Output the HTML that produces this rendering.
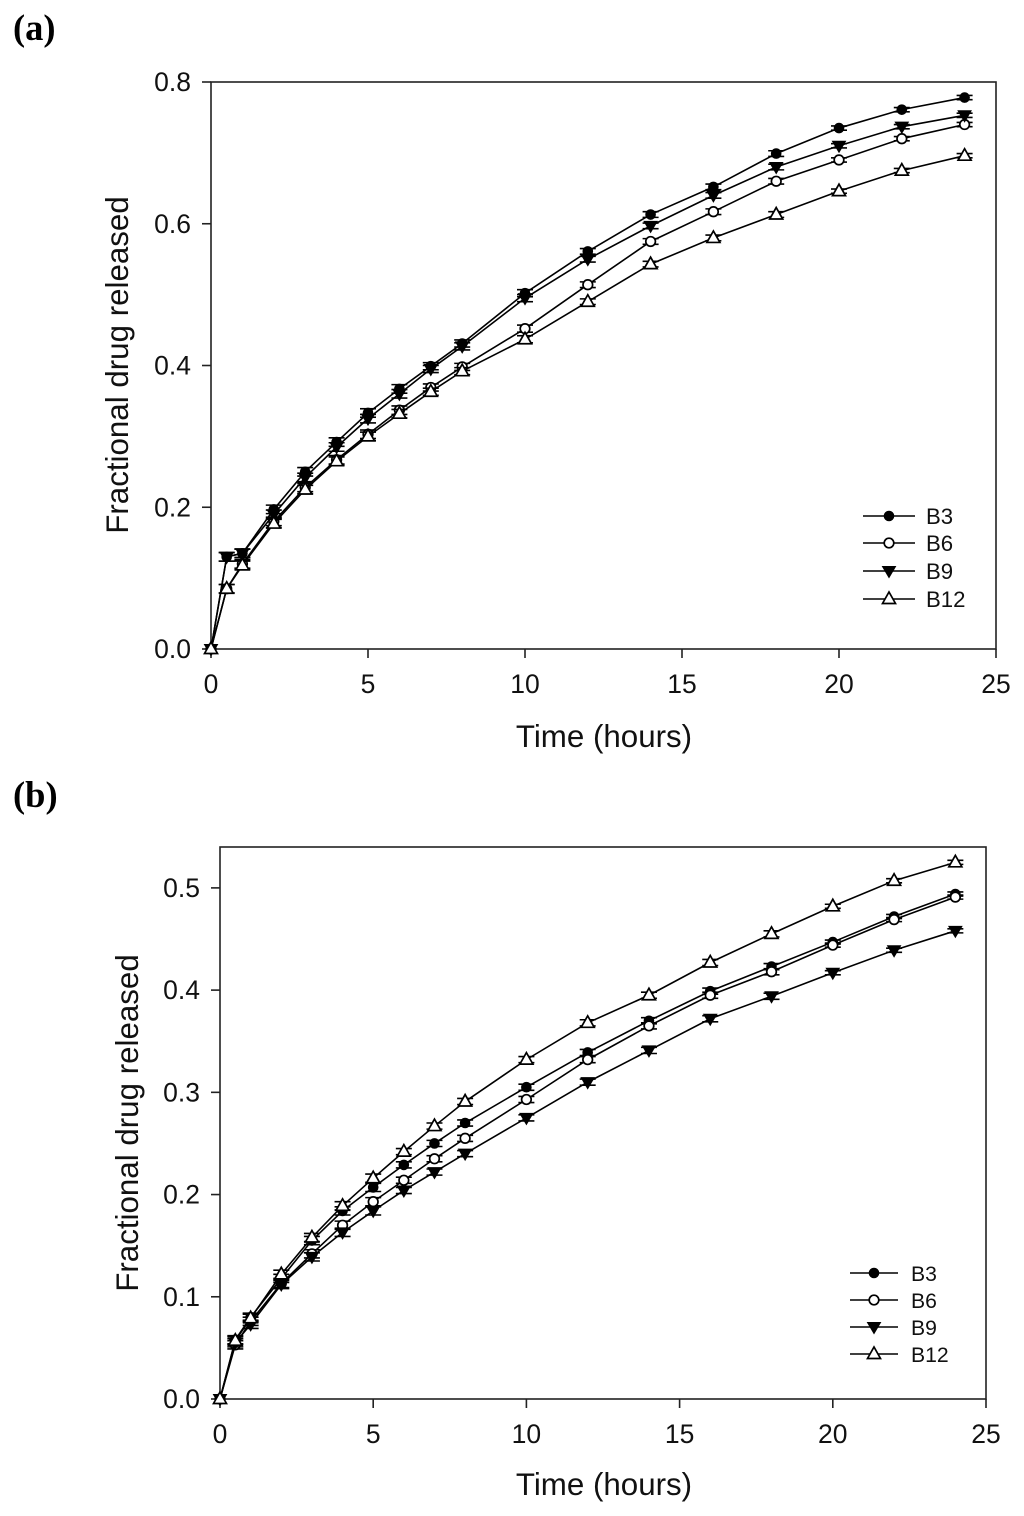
<!DOCTYPE html>
<html lang="en">
<head>
<meta charset="utf-8">
<title>Fractional drug released over time</title>
<style>
html,body{margin:0;padding:0;background:#fff;width:1024px;height:1516px;overflow:hidden}
svg{display:block;filter:blur(0.35px)}
text{font-family:"Liberation Sans",Arial,sans-serif;fill:#111}
.panel{font-family:"Liberation Serif","Times New Roman",serif;font-weight:bold;font-size:36.5px;fill:#000}
</style>
</head>
<body>
<svg id="figure" xmlns="http://www.w3.org/2000/svg" width="1024" height="1516" viewBox="0 0 1024 1516">
  <text class="panel" x="13" y="40">(a)</text>
  <text class="panel" x="13" y="807">(b)</text>
</svg>
<script>
var times = [0,0.5,1,2,3,4,5,6,7,8,10,12,14,16,18,20,22,24];
var seriesNames = ['B3','B6','B9','B12'];
var xTicks = [0,5,10,15,20,25];
var yTicksA = [0.0,0.2,0.4,0.6,0.8];
var yTicksB = [0.0,0.1,0.2,0.3,0.4,0.5];

var a_B3  = [0,0.130,0.135,0.197,0.250,0.292,0.333,0.367,0.399,0.431,0.502,0.561,0.613,0.652,0.699,0.735,0.761,0.778];
var a_B6  = [0,0.085,0.120,0.180,0.228,0.267,0.303,0.337,0.369,0.398,0.452,0.514,0.575,0.617,0.660,0.690,0.720,0.740];
var a_B9  = [0,0.130,0.135,0.190,0.242,0.285,0.325,0.360,0.395,0.427,0.495,0.550,0.597,0.640,0.680,0.710,0.737,0.753];
var a_B12 = [0,0.085,0.118,0.177,0.225,0.265,0.300,0.332,0.363,0.392,0.437,0.490,0.543,0.580,0.613,0.646,0.675,0.696];

var b_B3  = [0,0.058,0.080,0.118,0.155,0.184,0.207,0.229,0.250,0.270,0.305,0.339,0.370,0.399,0.423,0.447,0.472,0.494];
var b_B6  = [0,0.053,0.076,0.113,0.142,0.170,0.193,0.214,0.235,0.255,0.293,0.332,0.365,0.395,0.418,0.444,0.469,0.491];
var b_B9  = [0,0.055,0.073,0.112,0.139,0.163,0.184,0.204,0.222,0.240,0.275,0.310,0.341,0.372,0.394,0.417,0.439,0.458];
var b_B12 = [0,0.057,0.079,0.122,0.158,0.189,0.216,0.242,0.267,0.291,0.332,0.368,0.395,0.427,0.455,0.482,0.507,0.525];

var errA = [0,0.006,0.006,0.006,0.006,0.006,0.006,0.006,0.005,0.005,0.005,0.004,0.004,0.004,0.004,0.003,0.003,0.003];
var errB = [0,0.004,0.004,0.004,0.004,0.004,0.004,0.003,0.003,0.003,0.003,0.003,0.003,0.003,0.003,0.002,0.002,0.002];

var NS = 'http://www.w3.org/2000/svg';
var root = document.getElementById('figure');

function mk(parent, tag, attrs, txt) {
  var el = document.createElementNS(NS, tag);
  for (var k in attrs) { el.setAttribute(k, attrs[k]); }
  if (txt !== undefined) { el.textContent = txt; }
  parent.appendChild(el);
  return el;
}

function drawMarker(g, name, px, py) {
  var el;
  if (name === 'B3') {
    el = mk(g, 'circle', {cx:px, cy:py, r:4.8, fill:'#000', stroke:'#000', 'stroke-width':1});
  } else if (name === 'B6') {
    el = mk(g, 'circle', {cx:px, cy:py, r:4.8, fill:'#fff', stroke:'#000', 'stroke-width':1.7});
  } else if (name === 'B9') {
    el = mk(g, 'polygon', {points:(px-6.5)+','+(py-4.5)+' '+(px+6.5)+','+(py-4.5)+' '+px+','+(py+6.5), fill:'#000', stroke:'#000', 'stroke-width':1});
  } else {
    el = mk(g, 'polygon', {points:(px-6.5)+','+(py+4.5)+' '+(px+6.5)+','+(py+4.5)+' '+px+','+(py-7), fill:'#fff', stroke:'#000', 'stroke-width':1.7});
  }
  
  
}

function drawChart(cfg) {
  var chart = mk(root, 'g', {});
  
  

  function sx(v) { return cfg.left + (v - 0) / 25 * (cfg.right - cfg.left); }
  function sy(v) { return cfg.bottom - v / cfg.yMax * (cfg.bottom - cfg.top); }

  var frame = mk(chart, 'rect', {x:cfg.left, y:cfg.top, width:cfg.right-cfg.left, height:cfg.bottom-cfg.top, fill:'none', stroke:'#222', 'stroke-width':1.6});
  
  

  xTicks.forEach(function (t) {
    var tick = mk(chart, 'line', {x1:sx(t), x2:sx(t), y1:cfg.bottom, y2:cfg.bottom+9, stroke:'#222', 'stroke-width':1.6});
    
    
    var lab = mk(chart, 'text', {x:sx(t), y:cfg.bottom+44, 'text-anchor':'middle', 'font-size':cfg.tickSize}, String(t));
    
    
  });

  cfg.yTicks.forEach(function (t) {
    var tick = mk(chart, 'line', {x1:cfg.left-9, x2:cfg.left, y1:sy(t), y2:sy(t), stroke:'#222', 'stroke-width':1.6});
    
    
    var lab = mk(chart, 'text', {x:cfg.left-20, y:sy(t)+9, 'text-anchor':'end', 'font-size':cfg.tickSize}, t.toFixed(1));
    
    
  });

  var xt = mk(chart, 'text', {x:cfg.xTitleX, y:cfg.xTitleY, 'text-anchor':'middle', 'font-size':cfg.titleSize}, 'Time (hours)');
  
  
  var yt = mk(chart, 'text', {x:0, y:0, 'text-anchor':'middle', 'font-size':cfg.titleSize, transform:'translate(' + cfg.yTitleX + ',' + cfg.yTitleY + ') rotate(-90)'}, 'Fractional drug released');
  
  

  seriesNames.forEach(function (name, si) {
    var vals = cfg.series[si];
    var g = mk(chart, 'g', {});
    
    
    var pts = times.map(function (t, i) { return sx(t) + ',' + sy(vals[i]); }).join(' ');
    mk(g, 'polyline', {points:pts, fill:'none', stroke:'#000', 'stroke-width':1.6});
    times.forEach(function (t, i) {
      var e = cfg.err[i];
      if (e > 0) {
        var px = sx(t);
        [vals[i] + e, vals[i] - e].forEach(function (v) {
          var cap = mk(g, 'line', {x1:px-8, x2:px+8, y1:sy(v), y2:sy(v), stroke:'#000', 'stroke-width':1.6});
          
          
        });
      }
    });
    times.forEach(function (t, i) { drawMarker(g, name, sx(t), sy(vals[i])); });
  });

  var legend = mk(chart, 'g', {});
  
  
  seriesNames.forEach(function (name, si) {
    var ly = cfg.legendY[si];
    var entry = mk(legend, 'g', {});
    
    
    mk(entry, 'line', {x1:cfg.legX1, x2:cfg.legX2, y1:ly, y2:ly, stroke:'#000', 'stroke-width':1.6});
    drawMarker(entry, name, (cfg.legX1 + cfg.legX2) / 2, ly);
    mk(entry, 'text', {x:cfg.legText, y:ly+8, 'font-size':cfg.legSize}, name);
  });
}

drawChart({
  id:'a', left:211, right:996, top:82, bottom:649, yMax:0.8, yTicks:yTicksA,
  series:[a_B3,a_B6,a_B9,a_B12], err:errA,
  tickSize:26.5, titleSize:31.3,
  xTitleX:604, xTitleY:747, yTitleX:128, yTitleY:365,
  legendY:[516,543,571,599], legX1:863, legX2:915, legText:926, legSize:22.2
});
drawChart({
  id:'b', left:220, right:986, top:847, bottom:1399, yMax:0.54, yTicks:yTicksB,
  series:[b_B3,b_B6,b_B9,b_B12], err:errB,
  tickSize:26.5, titleSize:31.3,
  xTitleX:604, xTitleY:1495, yTitleX:138, yTitleY:1123,
  legendY:[1273,1300,1327,1354], legX1:850, legX2:898, legText:911, legSize:21.2
});
</script>
</body>
</html>
